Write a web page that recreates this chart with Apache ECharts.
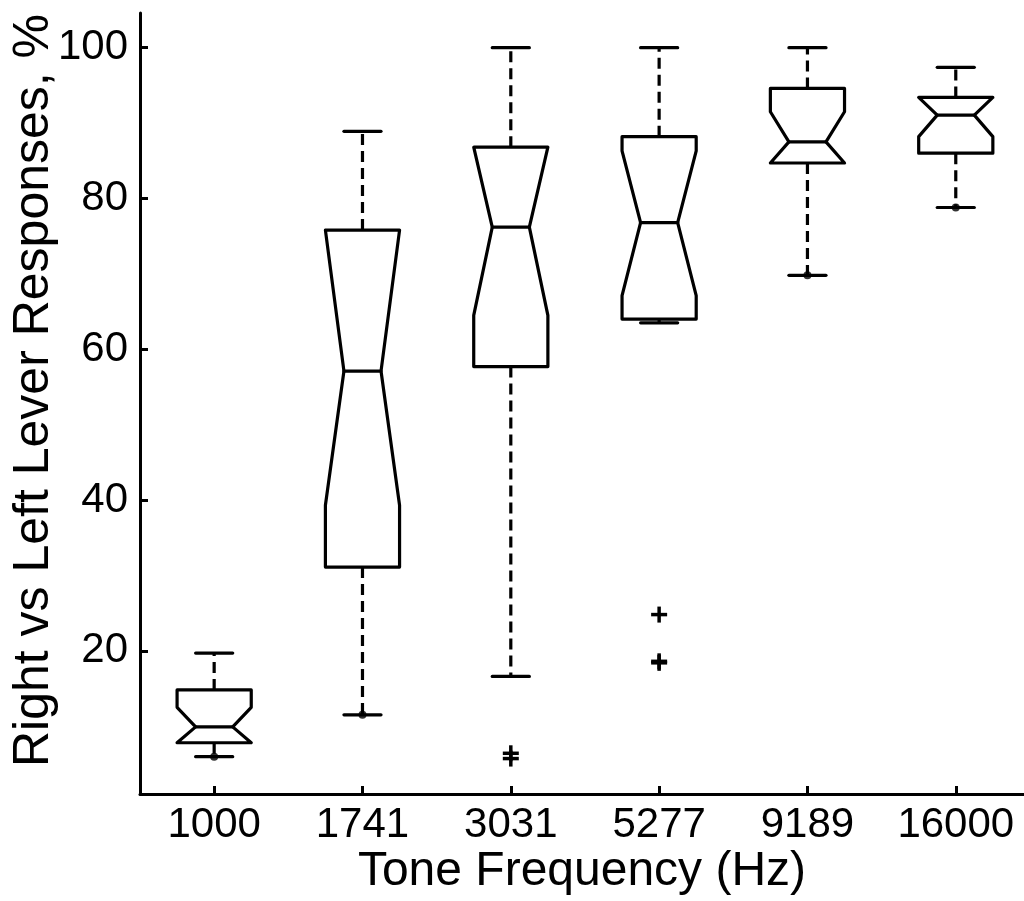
<!DOCTYPE html>
<html>
<head>
<meta charset="utf-8">
<script src="https://cdn.jsdelivr.net/npm/echarts@6/dist/echarts.min.js"></script>
<style>
  html, body { margin: 0; padding: 0; background: #fff; }
  #chart { width: 1024px; height: 901px; }
</style>
</head>
<body>
<div id="chart"></div>
<script>
// tone frequencies (Hz), one box per frequency
var categories = ['1000', '1741', '3031', '5277', '9189', '16000'];
var yTicks = [20, 40, 60, 80, 100];

// box statistics, in %
var whiskerLow  = [5.95, 11.5, 16.6, 63.5, 69.8, 78.8];
var q1          = [7.8, 31.1, 57.7, 64.0, 84.7, 86.0];
var notchLow    = [7.8, 39.3, 64.5, 67.1, 84.7, 88.2];
var median      = [9.9, 57.1, 76.2, 76.8, 87.5, 91.05];
var notchHigh   = [12.5, 75.8, 86.8, 86.3, 91.5, 93.4];
var q3          = [14.8, 75.8, 86.8, 88.2, 94.6, 93.4];
var whiskerHigh = [19.7, 88.9, 100, 100, 100, 97.4];

// outliers (+) : group index (1-based) and value
var outlierGroup = [3, 3, 4, 4, 4];
var outlierValue = [6.4, 5.7, 24.8, 18.4, 18.6];

// small dots sitting on some lower whiskers
var dotGroup = [1, 2, 5, 6];
var dotValue = [5.95, 11.5, 69.8, 78.8];

var boxData = categories.map(function (c, i) {
    return [i + 1, whiskerLow[i], q1[i], notchLow[i], median[i], notchHigh[i], q3[i], whiskerHigh[i]];
});
var outlierData = outlierGroup.map(function (g, i) { return [g, outlierValue[i]]; });
var dotData = dotGroup.map(function (g, i) { return [g, dotValue[i]]; });

var LW = 3.2;

function renderBox(params, api) {
    var x = api.value(0);
    var wl = api.value(1), lo = api.value(2), nlo = api.value(3), med = api.value(4),
        nhi = api.value(5), hi = api.value(6), wh = api.value(7);
    var W = 0.25, N = 0.125, C = 0.125;
    function p(dx, v) { return api.coord([x + dx, v]); }
    var solid = { stroke: '#000', lineWidth: LW, fill: null, lineJoin: 'round', lineCap: 'round' };
    var dashed = { stroke: '#000', lineWidth: LW, lineDash: [11, 6] };
    function line(a, b, st) {
        return { type: 'line', shape: { x1: a[0], y1: a[1], x2: b[0], y2: b[1] }, style: st };
    }
    return {
        type: 'group',
        children: [
            line(p(0, hi), p(0, wh), dashed),
            line(p(0, lo), p(0, wl), dashed),
            line(p(-C, wh), p(C, wh), solid),
            line(p(-C, wl), p(C, wl), solid),
            {
                type: 'polygon',
                shape: { points: [p(-W, lo), p(-W, nlo), p(-N, med), p(-W, nhi), p(-W, hi),
                                  p(W, hi), p(W, nhi), p(N, med), p(W, nlo), p(W, lo)] },
                style: solid
            },
            line(p(-N, med), p(N, med), solid)
        ]
    };
}

function renderPlus(params, api) {
    var c = api.coord([api.value(0), api.value(1)]);
    var h = 8;
    var st = { stroke: '#000', lineWidth: 3.5 };
    return {
        type: 'group',
        children: [
            { type: 'line', shape: { x1: c[0] - h, y1: c[1], x2: c[0] + h, y2: c[1] }, style: st },
            { type: 'line', shape: { x1: c[0], y1: c[1] - h, x2: c[0], y2: c[1] + h }, style: st }
        ]
    };
}

var chart = echarts.init(document.getElementById('chart'));
var font = '"Liberation Sans", Arial, Helvetica, sans-serif';

var option = {
    backgroundColor: '#fff',
    animation: false,
    grid: { left: 140, right: 0, top: 13, bottom: 107, containLabel: false, outerBoundsMode: 'none' },
    xAxis: {
        type: 'value',
        min: 0.5,
        max: 6.46,
        name: 'Tone Frequency (Hz)',
        nameLocation: 'middle',
        nameGap: 54,
        nameMoveOverlap: false,
        nameTextStyle: { fontFamily: font, fontSize: 48, color: '#000' },
        axisLine: { show: true, onZero: false, lineStyle: { color: '#000', width: 3 } },
        axisTick: { show: true, inside: true, length: 8, lineStyle: { color: '#000', width: 3 },
                    customValues: [1, 2, 3, 4, 5, 6] },
        axisLabel: {
            customValues: [1, 2, 3, 4, 5, 6],
            margin: 10,
            fontFamily: font, fontSize: 42, color: '#000',
            formatter: function (v) { return categories[Math.round(v) - 1]; }
        },
        splitLine: { show: false }
    },
    yAxis: {
        type: 'value',
        min: 1,
        max: 104.6,
        name: 'Right vs Left Lever Responses, %',
        nameLocation: 'middle',
        nameGap: 81,
        nameMoveOverlap: false,
        nameTextStyle: { fontFamily: font, fontSize: 50, color: '#000', padding: [0, 0, 0, 26] },
        axisLine: { show: true, onZero: false, lineStyle: { color: '#000', width: 3 } },
        axisTick: { show: true, inside: true, length: 8, lineStyle: { color: '#000', width: 3 },
                    customValues: yTicks },
        axisLabel: { customValues: yTicks, margin: 12, fontFamily: font, fontSize: 42, color: '#000' },
        splitLine: { show: false }
    },
    series: [
        {
            type: 'custom',
            renderItem: renderBox,
            data: boxData,
            encode: { x: 0, y: [1, 2, 3, 4, 5, 6, 7] },
            silent: true
        },
        {
            type: 'scatter',
            data: dotData,
            symbol: 'circle',
            symbolSize: 8,
            itemStyle: { color: '#000' },
            silent: true
        },
        {
            type: 'custom',
            renderItem: renderPlus,
            data: outlierData,
            encode: { x: 0, y: 1 },
            silent: true
        }
    ]
};

chart.setOption(option);
</script>
</body>
</html>
